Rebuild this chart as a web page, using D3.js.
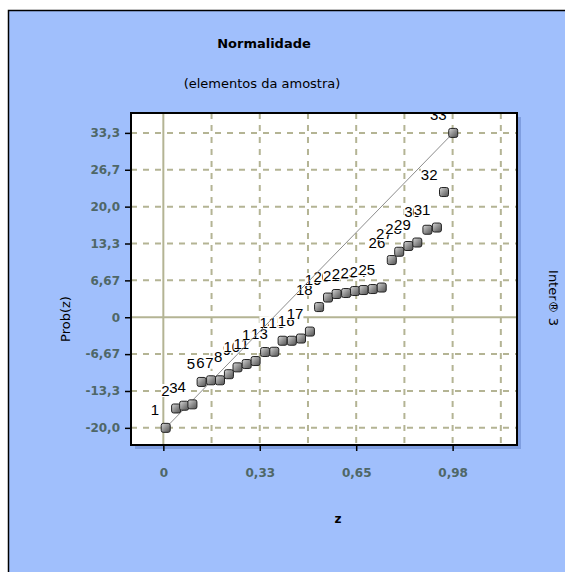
<!DOCTYPE html>
<html><head><meta charset="utf-8">
<script src="https://cdn.jsdelivr.net/npm/d3@7"></script>
<style>
html,body{margin:0;padding:0;background:#fff;}
svg{display:block;}
</style></head>
<body>
<script>
// ---- data ----
const pointLabels = ["1","2","3","4","5","6","7","8","9","10","11","12","13","14","15","16","17","18","19","20","21","22","23","24","25","26","27","28","29","30","31","32","33"];
const zValues = [0.008,0.043,0.070,0.098,0.129,0.161,0.191,0.221,0.250,0.281,0.311,0.343,0.374,0.402,0.433,0.464,0.494,0.525,0.555,0.584,0.616,0.646,0.675,0.706,0.736,0.770,0.795,0.826,0.856,0.890,0.922,0.946,0.977];
const probValues = [-20.0,-16.5,-16.0,-15.75,-11.7,-11.4,-11.4,-10.3,-9.06,-8.46,-7.92,-6.29,-6.24,-4.25,-4.25,-3.85,-2.59,1.84,3.56,4.20,4.38,4.74,4.92,5.10,5.37,10.34,11.84,12.88,13.51,15.82,16.22,22.64,33.33];
const xTickValues = [0,0.1625,0.325,0.4875,0.65,0.8125,0.975,1.1375];
const xTickLabels = ["0","","0,33","","0,65","","0,98",""];
const yTickValues = [-20,-13.333,-6.667,0,6.667,13.333,20,26.667,33.333];
const yTickLabels = ["-20,0","-13,3","-6,67","0","6,67","13,3","20,0","26,7","33,3"];
const titleText = "Normalidade";
const subtitleText = "(elementos da amostra)";
const xTitle = "z";
const yTitle = "Prob(z)";
const legendText = "Inter® 3";

const W = 565, H = 572;
const plot = {l:131, t:113, r:517, b:445};
const svg = d3.select("body").append("svg").attr("width",W).attr("height",H);

const defs = svg.append("defs");
const grad = defs.append("linearGradient").attr("id","mk").attr("x1","0").attr("y1","0").attr("x2","1").attr("y2","1");
grad.append("stop").attr("offset","0").attr("stop-color","#d8d8d8");
grad.append("stop").attr("offset","0.5").attr("stop-color","#909090");
grad.append("stop").attr("offset","1").attr("stop-color","#505050");
defs.append("clipPath").attr("id","pc").append("rect")
  .attr("x",plot.l).attr("y",plot.t).attr("width",plot.r-plot.l).attr("height",plot.b-plot.t);

// background panel
svg.append("rect").attr("x",8.5).attr("y",10.5).attr("width",W).attr("height",H)
  .attr("fill","#a0bffc").attr("stroke","#000").attr("stroke-width",1.5);

const x = d3.scaleLinear().domain([-0.109,1.192]).range([plot.l,plot.r]);
const y = d3.scaleLinear().domain([-23.1,36.93]).range([plot.b,plot.t]);

// shadow
svg.append("rect").attr("x",plot.l+4).attr("y",plot.t+4).attr("width",plot.r-plot.l).attr("height",plot.b-plot.t)
  .attr("fill","#7f9ee0");
svg.append("rect").attr("x",plot.l).attr("y",plot.t).attr("width",plot.r-plot.l).attr("height",plot.b-plot.t)
  .attr("fill","#fff");

const gridCol = "#b4b494";
const g = svg.append("g").attr("clip-path","url(#pc)");
g.selectAll("line.vx").data(xTickValues).join("line")
  .attr("x1",d=>x(d)).attr("x2",d=>x(d)).attr("y1",plot.t).attr("y2",plot.b)
  .attr("stroke",gridCol).attr("stroke-width",2)
  .attr("stroke-dasharray",d=>d===0?null:"6,6");
g.selectAll("line.hy").data(yTickValues).join("line")
  .attr("y1",d=>y(d)).attr("y2",d=>y(d)).attr("x1",plot.l).attr("x2",plot.r)
  .attr("stroke",gridCol).attr("stroke-width",2)
  .attr("stroke-dasharray",d=>d===0?null:"6,6");

// labels with opaque background
const pts = zValues.map((z,i)=>({z, p:probValues[i], lab:pointLabels[i]}));
const lg = g.append("g");
pts.forEach(d=>{
  const t = lg.append("text").attr("x",x(d.z)-6.5).attr("y",y(d.p)-12.5)
    .attr("text-anchor","end").attr("font-family","Liberation Sans, Arial, sans-serif")
    .attr("font-size",15).attr("fill","#000").text(d.lab);
  const bb = t.node().getBBox();
  lg.insert("rect", () => t.node()).attr("x",bb.x).attr("y",bb.y+2).attr("width",bb.width).attr("height",bb.height-4).attr("fill","#fff");
});

// reference line
g.append("line").attr("x1",x(zValues[0])).attr("y1",y(probValues[0]))
  .attr("x2",x(zValues[zValues.length-1])).attr("y2",y(probValues[probValues.length-1]))
  .attr("stroke","#8c8c8c").attr("stroke-width",1);

// markers
g.selectAll("rect.mk").data(pts).join("rect")
  .attr("x",d=>x(d.z)-4.5).attr("y",d=>y(d.p)-4.5).attr("width",9).attr("height",9)
  .attr("rx",2).attr("fill","url(#mk)").attr("stroke","#222").attr("stroke-width",1);

// plot border
svg.append("rect").attr("x",plot.l).attr("y",plot.t).attr("width",plot.r-plot.l).attr("height",plot.b-plot.t)
  .attr("fill","none").attr("stroke","#000").attr("stroke-width",2);

// axes
const tickCol = "#4f6767";
const yAxis = d3.axisLeft(y).tickValues(yTickValues).tickFormat((d,i)=>yTickLabels[i]).tickSize(5).tickPadding(5);
const ya = svg.append("g").attr("transform",`translate(${plot.l-1},0)`).call(yAxis);
ya.select(".domain").remove();
ya.selectAll(".tick line").attr("stroke","#000").attr("stroke-width",1.5);
ya.selectAll(".tick text").attr("fill",tickCol).attr("font-family","DejaVu Sans, Verdana, sans-serif")
  .attr("font-weight","bold").attr("font-size",12);

const xLabVals = xTickValues.filter((d,i)=>xTickLabels[i]!=="");
const xAxis = d3.axisBottom(x).tickValues(xLabVals).tickFormat(d=>xTickLabels[xTickValues.indexOf(d)]).tickSize(5).tickPadding(17);
const xa = svg.append("g").attr("transform",`translate(0,${plot.b+1})`).call(xAxis);
xa.select(".domain").remove();
xa.selectAll(".tick line").attr("stroke","#000").attr("stroke-width",1.5);
xa.selectAll(".tick text").attr("fill",tickCol).attr("font-family","DejaVu Sans, Verdana, sans-serif")
  .attr("font-weight","bold").attr("font-size",12);

// titles
svg.append("text").attr("x",264).attr("y",48).attr("text-anchor","middle")
  .attr("font-family","DejaVu Sans, Verdana, sans-serif").attr("font-weight","bold").attr("font-size",13)
  .attr("fill","#000").text(titleText);
svg.append("text").attr("x",262).attr("y",88).attr("text-anchor","middle")
  .attr("font-family","DejaVu Sans, Verdana, sans-serif").attr("font-size",13)
  .attr("fill","#000").text(subtitleText);
svg.append("text").attr("x",338).attr("y",523).attr("text-anchor","middle")
  .attr("font-family","DejaVu Sans, Verdana, sans-serif").attr("font-weight","bold").attr("font-size",12)
  .attr("fill","#000").text(xTitle);
svg.append("text").attr("transform","translate(70,319) rotate(-90)").attr("text-anchor","middle")
  .attr("font-family","DejaVu Sans, Verdana, sans-serif").attr("font-size",13)
  .attr("fill","#000").text(yTitle);
svg.append("text").attr("transform","translate(549,298) rotate(90)").attr("text-anchor","middle")
  .attr("font-family","DejaVu Sans, Verdana, sans-serif").attr("font-size",13)
  .attr("fill","#000").text(legendText);
</script>
</body></html>
